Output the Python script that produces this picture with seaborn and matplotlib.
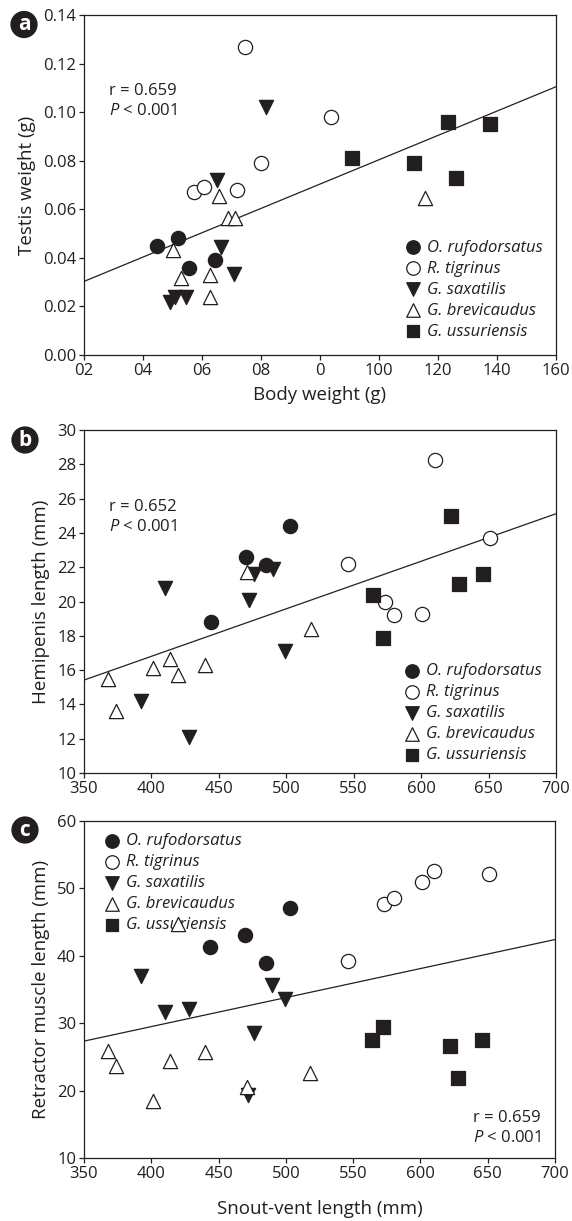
import numpy as np
import pandas as pd
import matplotlib
matplotlib.use("Agg")
import matplotlib.pyplot as plt
from matplotlib.font_manager import FontProperties
from matplotlib.ticker import FixedLocator, FixedFormatter
import seaborn as sns

# ---------------- data ----------------
species = ["O. rufodorsatus", "R. tigrinus", "G. saxatilis", "G. brevicaudus", "G. ussuriensis"]

# Panel a: body weight (g) vs testis weight (g)
bw_oru = [24.9, 31.7, 35.5, 44.3]
tw_oru = [0.045, 0.048, 0.036, 0.039]
bw_tig = [37.4, 40.7, 52.0, 54.6, 59.9, 83.6]
tw_tig = [0.067, 0.069, 0.068, 0.127, 0.079, 0.098]
bw_sax = [29.2, 30.8, 34.7, 45.0, 46.3, 50.9, 61.7]
tw_sax = [0.022, 0.024, 0.024, 0.072, 0.0445, 0.0335, 0.102]
bw_bre = [30.1, 32.8, 42.8, 42.8, 45.6, 48.9, 51.1, 115.7]
tw_bre = [0.0434, 0.0317, 0.0328, 0.0238, 0.0655, 0.0566, 0.0566, 0.0645]
bw_uss = [91.0, 112.0, 123.5, 126.0, 137.6]
tw_uss = [0.081, 0.079, 0.096, 0.073, 0.095]

# Panels b and c: snout-vent length (mm)
svl_oru = [444, 470, 485, 503]
svl_tig = [546, 573, 580, 601, 610, 651]
svl_sax = [392, 410, 428, 472, 476, 490, 499]
svl_bre = [368, 374, 401, 414, 420, 440, 471, 518]
svl_uss = [564, 572, 622, 628, 646]

# Panel b: hemipenis length (mm)
hl_oru = [18.8, 22.6, 22.1, 24.4]
hl_tig = [22.2, 20.0, 19.2, 19.25, 28.25, 23.7]
hl_sax = [14.2, 20.8, 12.1, 20.1, 21.6, 21.9, 17.1]
hl_bre = [15.5, 13.6, 16.1, 16.65, 15.7, 16.3, 21.7, 18.4]
hl_uss = [20.4, 17.9, 25.0, 21.0, 21.6]

# Panel c: retractor muscle length (mm)
rm_oru = [41.3, 43.1, 38.9, 47.1]
rm_tig = [39.2, 47.7, 48.6, 50.9, 52.6, 52.1]
rm_sax = [37.0, 31.7, 32.1, 19.4, 28.5, 35.7, 33.6]
rm_bre = [25.9, 23.7, 18.4, 24.4, 44.7, 25.7, 20.6, 22.6]
rm_uss = [27.5, 29.5, 26.55, 21.8, 27.5]

# regression lines (intercept, slope)
fit_a = (0.0303, 0.000501)
fit_b = (5.72, 0.02771)
fit_c = (12.27, 0.04306)

stats_a = ["r = 0.659", "$P$ < 0.001"]
stats_b = ["r = 0.652", "$P$ < 0.001"]
stats_c = ["r = 0.659", "$P$ < 0.001"]

a_xticks = [0, 20, 40, 60, 80, 100, 120, 140, 160]
a_xticklabels = ["02", "04", "06", "08", "0", "100", "120", "140", "160"]
a_yticks = [0.00, 0.02, 0.04, 0.06, 0.08, 0.10, 0.12, 0.14]
b_xticks = [350, 400, 450, 500, 550, 600, 650, 700]
b_yticks = [10, 12, 14, 16, 18, 20, 22, 24, 26, 28, 30]
c_yticks = [10, 20, 30, 40, 50, 60]

def long_df(xs, ys, xname, yname):
    rows = []
    for sp, xv, yv in zip(species, xs, ys):
        for a, b in zip(xv, yv):
            rows.append({"species": sp, xname: a, yname: b})
    return pd.DataFrame(rows)

df_a = long_df([bw_oru, bw_tig, bw_sax, bw_bre, bw_uss],
               [tw_oru, tw_tig, tw_sax, tw_bre, tw_uss], "bw", "tw")
df_b = long_df([svl_oru, svl_tig, svl_sax, svl_bre, svl_uss],
               [hl_oru, hl_tig, hl_sax, hl_bre, hl_uss], "svl", "hl")
df_c = long_df([svl_oru, svl_tig, svl_sax, svl_bre, svl_uss],
               [rm_oru, rm_tig, rm_sax, rm_bre, rm_uss], "svl", "rm")

# ---------------- style ----------------
sns.set_style("white")
INK = "#231f20"
plt.rcParams["font.family"] = ["Open Sans", "DejaVu Sans"]
plt.rcParams["mathtext.fontset"] = "custom"
plt.rcParams["mathtext.rm"] = "Open Sans"
plt.rcParams["mathtext.it"] = "Open Sans:italic"
plt.rcParams["text.color"] = INK
plt.rcParams["axes.labelcolor"] = INK
plt.rcParams["xtick.color"] = INK
plt.rcParams["ytick.color"] = INK

marker_style = {
    "O. rufodorsatus": dict(marker="o", color=INK),
    "R. tigrinus": dict(marker="o", color="white"),
    "G. saxatilis": dict(marker="v", color=INK),
    "G. brevicaudus": dict(marker="^", color="white"),
    "G. ussuriensis": dict(marker="s", color=INK),
}
sizes = {"o": 105, "v": 105, "^": 105, "s": 95}

TICK_FS = 12
LABEL_FS = 13.5
LEG_FS = 12
W, H = 572, 1221

fig = plt.figure(figsize=(W / 100, H / 100), dpi=100)

def make_axes(left, right, top, bottom):
    return fig.add_axes([left / W, 1 - bottom / H, (right - left) / W, (bottom - top) / H])

ax_a = make_axes(84, 556, 15, 355)
ax_b = make_axes(84, 556, 430, 773)
ax_c = make_axes(84, 555, 821, 1158)

def draw(ax, df, x, y, fit, xlim, ylim):
    for sp in species:
        st = marker_style[sp]
        sub = df[df["species"] == sp]
        sns.scatterplot(data=sub, x=x, y=y, ax=ax, marker=st["marker"],
                        color=st["color"], edgecolor=INK, linewidth=0.9,
                        s=sizes[st["marker"]], label=sp, zorder=3, legend=False)
    ax.axline((0, fit[0]), slope=fit[1], color=INK, lw=0.9, zorder=2)
    ax.set_xlim(*xlim)
    ax.set_ylim(*ylim)
    for s in ax.spines.values():
        s.set_color(INK)
        s.set_linewidth(0.9)
        s.set_visible(True)
    ax.tick_params(axis="both", which="major", direction="out", length=3.5, width=0.9,
                   labelsize=TICK_FS, pad=2, top=False, right=False, left=True, bottom=True)

def add_legend(ax, x, y):
    handles = ax.collections[:5]
    leg = ax.legend(handles, species, loc="upper left", bbox_to_anchor=(x, y),
                    frameon=False, prop=FontProperties(family=["Open Sans"], style="italic", size=LEG_FS),
                    handletextpad=0.35, labelspacing=0.3, borderpad=0, borderaxespad=0,
                    handlelength=1.0, markerscale=0.95, scatterpoints=1)
    for t in leg.get_texts():
        t.set_color(INK)
    leg.set_zorder(1)

def add_stats(ax, x, y1, y2, lines, ha="left"):
    ax.text(x, y1, lines[0], transform=ax.transAxes, fontsize=TICK_FS, ha=ha, va="center")
    ax.text(x, y2, lines[1], transform=ax.transAxes, fontsize=TICK_FS, ha=ha, va="center")

# Panel a
draw(ax_a, df_a, "bw", "tw", fit_a, (0, 160), (0, 0.14))
ax_a.xaxis.set_major_locator(FixedLocator(a_xticks))
ax_a.xaxis.set_major_formatter(FixedFormatter(a_xticklabels))
ax_a.set_yticks(a_yticks)
ax_a.set_yticklabels([f"{v:.2f}" for v in a_yticks])
ax_a.set_xlabel("Body weight (g)", fontsize=LABEL_FS, labelpad=5)
ax_a.set_ylabel("Testis weight (g)", fontsize=LABEL_FS, labelpad=5)
add_legend(ax_a, 0.679, 0.339)
add_stats(ax_a, 0.054, 0.776, 0.718, stats_a)

# Panel b
draw(ax_b, df_b, "svl", "hl", fit_b, (350, 700), (10, 30))
ax_b.set_xticks(b_xticks)
ax_b.set_yticks(b_yticks)
ax_b.set_xlabel("")
ax_b.set_ylabel("Hemipenis length (mm)", fontsize=LABEL_FS, labelpad=5)
add_legend(ax_b, 0.677, 0.321)
add_stats(ax_b, 0.054, 0.775, 0.716, stats_b)

# Panel c
draw(ax_c, df_c, "svl", "rm", fit_c, (350, 700), (10, 60))
ax_c.set_xticks(b_xticks)
ax_c.set_yticks(c_yticks)
ax_c.set_xlabel("Snout-vent length (mm)", fontsize=LABEL_FS, labelpad=13)
ax_c.set_ylabel("Retractor muscle length (mm)", fontsize=LABEL_FS, labelpad=5)
add_legend(ax_c, 0.041, 0.963)
add_stats(ax_c, 0.826, 0.118, 0.059, stats_c)

# panel letters
for letter, (cx, cy) in zip(["a", "b", "c"], [(24, 24.5), (25, 440), (25, 830)]):
    fig.text(cx / W, 1 - cy / H, letter, color="white", fontsize=15, fontweight="bold",
             ha="center", va="center",
             bbox=dict(boxstyle="circle,pad=0.15", fc=INK, ec="none"))

fig.savefig("out.png", dpi=100)
